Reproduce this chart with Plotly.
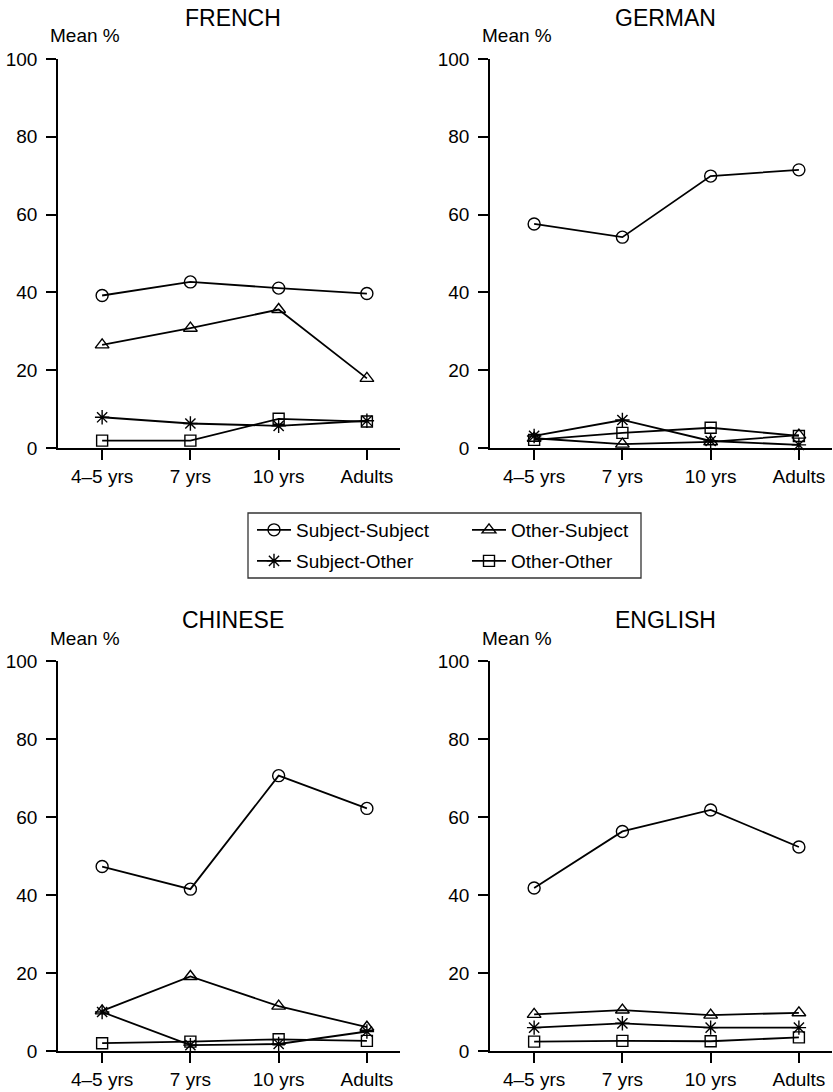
import plotly.graph_objects as go

W, H = 833, 1092

# Age groups on the x axis
ages = ["4–5 yrs", "7 yrs", "10 yrs", "Adults"]
series_names = ["Subject-Subject", "Other-Subject", "Subject-Other", "Other-Other"]

# Mean % per language and category
french_ss = [39.2, 42.7, 41.1, 39.7]
french_os = [26.5, 30.8, 35.6, 17.9]
french_so = [7.9, 6.3, 5.7, 7.0]
french_oo = [1.9, 1.9, 7.5, 6.8]

german_ss = [57.6, 54.2, 69.9, 71.5]
german_os = [2.5, 1.0, 1.6, 3.3]
german_so = [3.1, 7.2, 1.8, 0.8]
german_oo = [2.1, 3.9, 5.2, 3.1]

chinese_ss = [47.3, 41.5, 70.6, 62.2]
chinese_os = [10.3, 19.1, 11.5, 6.1]
chinese_so = [10.0, 1.5, 1.8, 5.0]
chinese_oo = [2.0, 2.4, 3.0, 2.6]

english_ss = [41.8, 56.3, 61.8, 52.3]
english_os = [9.4, 10.5, 9.2, 9.8]
english_so = [6.0, 7.1, 6.0, 6.0]
english_oo = [2.4, 2.6, 2.5, 3.5]

y_ticks = [0, 20, 40, 60, 80, 100]

FONT = "Liberation Sans, Arial, Helvetica, sans-serif"
symbols = ["circle-open", "triangle-up-open", "asterisk-open", "square-open"]
legend_for = ["legend", "legend", "legend2", "legend2"]


def px(x):
    return x / W


def py(y):
    return 1 - y / H


panels = [
    ("FRENCH", [french_ss, french_os, french_so, french_oo], (58, 400), (59, 448)),
    ("GERMAN", [german_ss, german_os, german_so, german_oo], (490, 832), (59, 448)),
    ("CHINESE", [chinese_ss, chinese_os, chinese_so, chinese_oo], (58, 400), (661, 1051)),
    ("ENGLISH", [english_ss, english_os, english_so, english_oo], (490, 832), (661, 1051)),
]

fig = go.Figure()
layout = {}
annotations = []

for i, (title, data, (x0, x1), (y0, y1)) in enumerate(panels):
    n = "" if i == 0 else str(i + 1)
    xref, yref = "x" + n, "y" + n
    for k, vals in enumerate(data):
        fig.add_trace(go.Scatter(
            x=list(range(len(ages))), y=vals,
            mode="lines+markers",
            name=series_names[k],
            legendgroup=series_names[k],
            showlegend=(i == 0),
            legend=legend_for[k],
            xaxis=xref, yaxis=yref,
            cliponaxis=False,
            line=dict(color="black", width=1.8),
            marker=dict(symbol=symbols[k], size=12 if k != 3 else 11,
                        color="black", line=dict(color="black", width=1.4)),
        ))
    layout["xaxis" + n] = dict(
        domain=[px(x0), px(x1)], anchor=yref,
        range=[-0.5, 3.375], automargin=False,
        tickvals=list(range(len(ages))), ticktext=ages,
        ticks="outside", ticklen=10, tickwidth=1.5, tickcolor="black",
        showline=True, linecolor="black", linewidth=1.5,
        showgrid=False, zeroline=False,
        tickfont=dict(family=FONT, size=19, color="black"),
    )
    layout["yaxis" + n] = dict(
        domain=[py(y1), py(y0)], anchor=xref,
        range=[0, 100], automargin=False,
        tickvals=y_ticks,
        ticks="outside", ticklen=10, tickwidth=1.5, tickcolor="black",
        showline=True, linecolor="black", linewidth=1.5,
        showgrid=False, zeroline=False,
        ticklabelstandoff=5,
        tickfont=dict(family=FONT, size=19, color="black"),
    )
    cx = (x0 + x1) / 2 + 4
    annotations.append(dict(
        text=title, x=px(cx), y=py(y0 - 41), xref="paper", yref="paper",
        xanchor="center", yanchor="middle", showarrow=False,
        font=dict(family=FONT, size=23, color="black"),
    ))
    annotations.append(dict(
        text="Mean %", x=px(x0 - 10), y=py(y0 - 23), xref="paper", yref="paper",
        xanchor="left", yanchor="middle", showarrow=False,
        font=dict(family=FONT, size=19, color="black"),
    ))

legend_style = dict(
    orientation="h", xanchor="left", yanchor="middle",
    entrywidth=166, entrywidthmode="pixels", itemwidth=34,
    bgcolor="rgba(0,0,0,0)", borderwidth=0,
    font=dict(family=FONT, size=19, color="black"),
)

layout["legend"] = dict(x=px(252), y=py(530), **legend_style)
layout["legend2"] = dict(x=px(252), y=py(561), **legend_style)

fig.update_layout(
    width=W, height=H,
    margin=dict(l=0, r=0, t=0, b=0, autoexpand=False),
    paper_bgcolor="white", plot_bgcolor="white",
    annotations=annotations,
    shapes=[dict(type="rect", xref="paper", yref="paper",
                 x0=px(248), x1=px(641), y0=py(578), y1=py(513),
                 line=dict(color="#333333", width=1.3))],
    **layout,
)

fig.write_html("out.html")
